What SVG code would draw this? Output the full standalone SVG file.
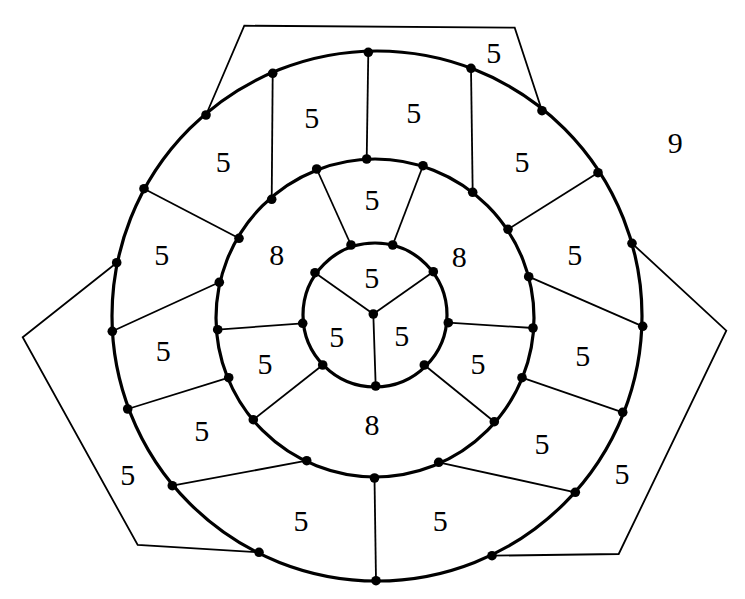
<svg xmlns="http://www.w3.org/2000/svg" width="745" height="599" viewBox="0 0 745 599">
<style>
.ring{fill:none;stroke:#000;stroke-width:3.2}
.edge{fill:none;stroke:#000;stroke-width:1.8;stroke-linejoin:miter}
.dot{fill:#000}
.lbl{font-family:"Liberation Serif","Times New Roman",serif;font-size:30px;text-anchor:middle;fill:#000}
</style>
<rect width="745" height="599" fill="#fff"/>
<g id="rings">
<circle class="ring" cx="377" cy="316" r="265"/>
<circle class="ring" cx="375" cy="318" r="159"/>
<circle class="ring" cx="375" cy="315" r="72"/>
</g>
<g id="connectors">
<polyline class="edge" points="206,115 244.3,25.7 514.7,27.7 542,110.7"/>
<polyline class="edge" points="116.7,262.7 22.7,337.3 137.7,545 259,552.3"/>
<polyline class="edge" points="632,243.3 726.3,330.7 618.7,554 492,555.7"/>
<line class="edge" x1="373.3" y1="314" x2="315" y2="272.7"/>
<line class="edge" x1="373.3" y1="314" x2="433.3" y2="271.7"/>
<line class="edge" x1="373.3" y1="314" x2="375.7" y2="386"/>
<line class="edge" x1="351" y1="245" x2="316.7" y2="169"/>
<line class="edge" x1="392.7" y1="245" x2="423" y2="165.7"/>
<line class="edge" x1="302.7" y1="323.3" x2="217.7" y2="329.7"/>
<line class="edge" x1="322.7" y1="365" x2="253.3" y2="419.7"/>
<line class="edge" x1="448.3" y1="322.7" x2="533" y2="328"/>
<line class="edge" x1="424.3" y1="365" x2="494.3" y2="421.7"/>
<line class="edge" x1="366.7" y1="159" x2="368.3" y2="52.3"/>
<line class="edge" x1="271.7" y1="199.3" x2="272.7" y2="73.3"/>
<line class="edge" x1="239" y1="238.3" x2="144" y2="188.7"/>
<line class="edge" x1="219.3" y1="282.3" x2="112.3" y2="331.3"/>
<line class="edge" x1="228.7" y1="377.7" x2="127.7" y2="409"/>
<line class="edge" x1="306.7" y1="460.7" x2="172.3" y2="485.7"/>
<line class="edge" x1="374.5" y1="478" x2="376" y2="580.7"/>
<line class="edge" x1="438.7" y1="462.3" x2="575.3" y2="492.3"/>
<line class="edge" x1="522" y1="377.7" x2="622.7" y2="412.3"/>
<line class="edge" x1="528.7" y1="276.7" x2="642.7" y2="326.3"/>
<line class="edge" x1="508" y1="229.3" x2="598" y2="172.7"/>
<line class="edge" x1="472.7" y1="192.3" x2="471" y2="68.3"/>
</g>
<g id="vertices">
<circle class="dot" cx="368.3" cy="52.3" r="4.8"/>
<circle class="dot" cx="272.7" cy="73.3" r="4.8"/>
<circle class="dot" cx="206" cy="115" r="4.8"/>
<circle class="dot" cx="144" cy="188.7" r="4.8"/>
<circle class="dot" cx="116.7" cy="262.7" r="4.8"/>
<circle class="dot" cx="112.3" cy="331.3" r="4.8"/>
<circle class="dot" cx="127.7" cy="409" r="4.8"/>
<circle class="dot" cx="172.3" cy="485.7" r="4.8"/>
<circle class="dot" cx="259" cy="552.3" r="4.8"/>
<circle class="dot" cx="376" cy="580.7" r="4.8"/>
<circle class="dot" cx="492" cy="555.7" r="4.8"/>
<circle class="dot" cx="575.3" cy="492.3" r="4.8"/>
<circle class="dot" cx="622.7" cy="412.3" r="4.8"/>
<circle class="dot" cx="642.7" cy="326.3" r="4.8"/>
<circle class="dot" cx="632" cy="243.3" r="4.8"/>
<circle class="dot" cx="598" cy="172.7" r="4.8"/>
<circle class="dot" cx="542" cy="110.7" r="4.8"/>
<circle class="dot" cx="471" cy="68.3" r="4.8"/>
<circle class="dot" cx="366.7" cy="159" r="4.8"/>
<circle class="dot" cx="316.7" cy="169" r="4.8"/>
<circle class="dot" cx="271.7" cy="199.3" r="4.8"/>
<circle class="dot" cx="239" cy="238.3" r="4.8"/>
<circle class="dot" cx="219.3" cy="282.3" r="4.8"/>
<circle class="dot" cx="217.7" cy="329.7" r="4.8"/>
<circle class="dot" cx="228.7" cy="377.7" r="4.8"/>
<circle class="dot" cx="253.3" cy="419.7" r="4.8"/>
<circle class="dot" cx="306.7" cy="460.7" r="4.8"/>
<circle class="dot" cx="374.5" cy="478" r="4.8"/>
<circle class="dot" cx="438.7" cy="462.3" r="4.8"/>
<circle class="dot" cx="494.3" cy="421.7" r="4.8"/>
<circle class="dot" cx="522" cy="377.7" r="4.8"/>
<circle class="dot" cx="533" cy="328" r="4.8"/>
<circle class="dot" cx="528.7" cy="276.7" r="4.8"/>
<circle class="dot" cx="508" cy="229.3" r="4.8"/>
<circle class="dot" cx="472.7" cy="192.3" r="4.8"/>
<circle class="dot" cx="423" cy="165.7" r="4.8"/>
<circle class="dot" cx="351" cy="245" r="4.8"/>
<circle class="dot" cx="392.7" cy="245" r="4.8"/>
<circle class="dot" cx="315" cy="272.7" r="4.8"/>
<circle class="dot" cx="433.3" cy="271.7" r="4.8"/>
<circle class="dot" cx="302.7" cy="323.3" r="4.8"/>
<circle class="dot" cx="448.3" cy="322.7" r="4.8"/>
<circle class="dot" cx="322.7" cy="365" r="4.8"/>
<circle class="dot" cx="424.3" cy="365" r="4.8"/>
<circle class="dot" cx="375.7" cy="386" r="4.8"/>
<circle class="dot" cx="373.3" cy="314" r="4.8"/>
</g>
<g id="labels">
<g id="f1"><text class="lbl" x="311.7" y="128.3">5</text></g>
<g id="f2"><text class="lbl" x="223.3" y="171.7">5</text></g>
<g id="f3"><text class="lbl" x="161.7" y="265">5</text></g>
<g id="f4"><text class="lbl" x="276.7" y="265">8</text></g>
<g id="f5"><text class="lbl" x="493.7" y="63.3">5</text></g>
<g id="f6"><text class="lbl" x="413.7" y="123.3">5</text></g>
<g id="f7"><text class="lbl" x="675.3" y="153.3">9</text></g>
<g id="f8"><text class="lbl" x="522" y="171.7">5</text></g>
<g id="f9"><text class="lbl" x="459.3" y="266.7">8</text></g>
<g id="f10"><text class="lbl" x="574.7" y="265">5</text></g>
<g id="f11"><text class="lbl" x="163.3" y="360.7">5</text></g>
<g id="f12"><text class="lbl" x="265" y="374">5</text></g>
<g id="f13"><text class="lbl" x="201.7" y="441.3">5</text></g>
<g id="f14"><text class="lbl" x="127.7" y="484.7">5</text></g>
<g id="f15"><text class="lbl" x="301" y="531.3">5</text></g>
<g id="f16"><text class="lbl" x="582.7" y="365.7">5</text></g>
<g id="f17"><text class="lbl" x="478" y="374">5</text></g>
<g id="f18"><text class="lbl" x="542" y="454">5</text></g>
<g id="f19"><text class="lbl" x="622" y="484">5</text></g>
<g id="f20"><text class="lbl" x="440.3" y="530.7">5</text></g>
<g id="f21"><text class="lbl" x="372" y="435">8</text></g>
<g id="f22"><text class="lbl" x="371.7" y="288.3">5</text></g>
<g id="f23"><text class="lbl" x="336.7" y="346.7">5</text></g>
<g id="f24"><text class="lbl" x="401.7" y="346">5</text></g>
<g id="f25"><text class="lbl" x="372" y="210">5</text></g>
</g>
</svg>
